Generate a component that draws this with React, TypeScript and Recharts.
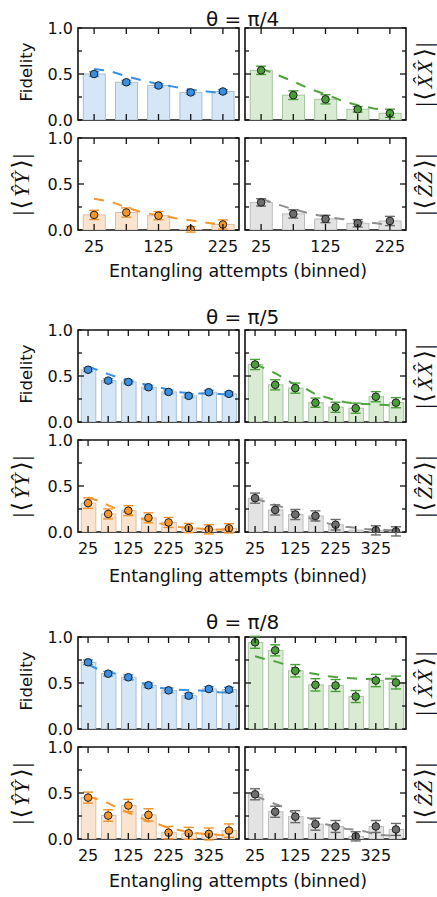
import React from 'react';
import { ComposedChart, Bar, Line, Scatter, XAxis, YAxis, ErrorBar, ReferenceArea } from 'recharts';

// ---------- shared axes ----------
const BINS_5 = [25, 75, 125, 175, 225];
const BINS_8 = [25, 75, 125, 175, 225, 275, 325, 375];
const TH_X_5 = [25, 50, 75, 100, 125, 150, 175, 200, 225];
const TH_X_8 = [25, 50, 75, 100, 125, 150, 175, 200, 225, 250, 275, 300, 325, 350, 375];
const X_LABELS_5 = [25, 125, 225];
const X_LABELS_8 = [25, 125, 225, 325];
const Y_TICKS = [0, 0.25, 0.5, 0.75, 1];
const Y_LABELS = [0, 0.5, 1];
const TITLES = ['θ = π/4', 'θ = π/5', 'θ = π/8'];
const X_TITLE = 'Entangling attempts (binned)';

// ---------- θ = π/4 ----------
const PI4_FID = [0.5, 0.41, 0.375, 0.3, 0.31];
const PI4_FID_ERR = [0.025, 0.02, 0.02, 0.02, 0.02];
const PI4_FID_TH = [0.555, 0.53, 0.475, 0.43, 0.39, 0.36, 0.33, 0.31, 0.29];
const PI4_XX = [0.54, 0.27, 0.225, 0.116, 0.073];
const PI4_XX_ERR = [0.045, 0.047, 0.05, 0.03, 0.045];
const PI4_XX_TH = [0.56, 0.49, 0.42, 0.34, 0.28, 0.21, 0.16, 0.125, 0.1];
const PI4_YY = [0.164, 0.19, 0.156, 0.007, 0.06];
const PI4_YY_ERR = [0.05, 0.05, 0.045, 0.03, 0.05];
const PI4_YY_TH = [0.34, 0.31, 0.245, 0.19, 0.16, 0.13, 0.105, 0.08, 0.055];
const PI4_ZZ = [0.3, 0.175, 0.12, 0.073, 0.098];
const PI4_ZZ_ERR = [0.04, 0.045, 0.04, 0.04, 0.05];
const PI4_ZZ_TH = [0.34, 0.28, 0.225, 0.18, 0.145, 0.12, 0.095, 0.075, 0.055];

// ---------- θ = π/5 ----------
const PI5_FID = [0.568, 0.45, 0.435, 0.378, 0.327, 0.284, 0.324, 0.306];
const PI5_FID_ERR = [0.02, 0.02, 0.02, 0.02, 0.02, 0.02, 0.02, 0.02];
const PI5_FID_TH = [0.6, 0.565, 0.52, 0.485, 0.455, 0.425, 0.4, 0.38, 0.35, 0.325, 0.315, 0.31, 0.31, 0.305, 0.3];
const PI5_XX = [0.625, 0.404, 0.368, 0.21, 0.16, 0.15, 0.275, 0.21];
const PI5_XX_ERR = [0.055, 0.055, 0.055, 0.05, 0.055, 0.055, 0.055, 0.055];
const PI5_XX_TH = [0.63, 0.58, 0.53, 0.47, 0.4, 0.365, 0.3, 0.27, 0.235, 0.215, 0.2, 0.195, 0.19, 0.185, 0.18];
const PI5_YY = [0.314, 0.196, 0.232, 0.154, 0.104, 0.043, 0.029, 0.04];
const PI5_YY_ERR = [0.057, 0.054, 0.054, 0.054, 0.054, 0.05, 0.05, 0.05];
const PI5_YY_TH = [0.375, 0.34, 0.29, 0.245, 0.2, 0.16, 0.115, 0.096, 0.07, 0.055, 0.045, 0.037, 0.03, 0.027, 0.025];
const PI5_ZZ = [0.368, 0.24, 0.19, 0.175, 0.079, 0.02, 0.018, 0.007];
const PI5_ZZ_PT = [0.368, 0.24, 0.19, 0.175, 0.079, null, 0.018, 0.007];
const PI5_ZZ_ERR = [0.055, 0.055, 0.055, 0.055, 0.057, 0.05, 0.05, 0.05];
const PI5_ZZ_TH = [0.36, 0.33, 0.295, 0.26, 0.205, 0.17, 0.125, 0.1, 0.075, 0.058, 0.045, 0.032, 0.025, 0.023, 0.018];

// ---------- θ = π/8 ----------
const PI8_FID = [0.725, 0.601, 0.562, 0.475, 0.42, 0.362, 0.435, 0.428];
const PI8_FID_ERR = [0.025, 0.025, 0.025, 0.025, 0.025, 0.025, 0.025, 0.025];
const PI8_FID_TH = [0.7, 0.65, 0.62, 0.595, 0.55, 0.515, 0.47, 0.447, 0.437, 0.428, 0.42, 0.418, 0.412, 0.4, 0.395];
const PI8_XX = [0.942, 0.855, 0.633, 0.48, 0.473, 0.353, 0.527, 0.505];
const PI8_XX_ERR = [0.065, 0.06, 0.067, 0.067, 0.065, 0.065, 0.067, 0.07];
const PI8_XX_TH = [0.79, 0.76, 0.735, 0.7, 0.648, 0.615, 0.597, 0.578, 0.565, 0.555, 0.548, 0.543, 0.545, 0.545, 0.545];
const PI8_YY = [0.45, 0.255, 0.364, 0.262, 0.069, 0.062, 0.055, 0.091];
const PI8_YY_ERR = [0.06, 0.063, 0.067, 0.067, 0.067, 0.065, 0.065, 0.073];
const PI8_YY_TH = [0.465, 0.43, 0.39, 0.335, 0.285, 0.244, 0.19, 0.16, 0.12, 0.098, 0.075, 0.062, 0.052, 0.044, 0.04];
const PI8_ZZ = [0.486, 0.296, 0.243, 0.161, 0.136, 0.029, 0.136, 0.104];
const PI8_ZZ_ERR = [0.06, 0.06, 0.065, 0.065, 0.065, 0.05, 0.065, 0.065];
const PI8_ZZ_TH = [0.47, 0.425, 0.38, 0.34, 0.265, 0.24, 0.2, 0.16, 0.14, 0.11, 0.1, 0.08, 0.048, 0.04, 0.035];

// ---------- styles ----------
const STYLES: Record<string, any> = {
  blue: { pt: '#3a8fe0', bar: '#d5e6f7', barEdge: '#a9bed4', err: '#4a9be6', th: '#3a8fe0' },
  green: { pt: '#4a9e3a', bar: '#d9ebd3', barEdge: '#a9c4a3', err: '#45a034', th: '#4ea33d' },
  orange: { pt: '#f5962b', bar: '#fbe4cf', barEdge: '#dcbfa6', err: '#f3912a', th: '#f5962f' },
  gray: { pt: '#6e6e6e', bar: '#e3e3e3', barEdge: '#bdbdbd', err: '#6a6a6a', th: '#8e8e8e' },
};

const PW = 161;
const PH = 92;
const ML = 45, MR = 12, MT = 12, MB = 35;
const FONT = '"DejaVu Sans", sans-serif';
const TICK_FONT = 16;

const makeXTick = (labels: number[] | null) => (props: any) => {
  const { x, y, payload } = props;
  const v = payload.value;
  return (
    <g>
      <line x1={x} x2={x} y1={y} y2={y - 6} stroke="#111" strokeWidth={1.3} />
      <line x1={x} x2={x} y1={y - PH} y2={y - PH + 6} stroke="#111" strokeWidth={1.3} />
      {labels && labels.includes(v) ? (
        <text x={x} y={y + 22} textAnchor="middle" fontSize={TICK_FONT} fontFamily={FONT} fill="#111">
          {v}
        </text>
      ) : null}
    </g>
  );
};

const makeYTick = (show: boolean) => (props: any) => {
  const { x, y, payload } = props;
  const v = payload.value;
  const len = v === 0.5 ? 6 : 4;
  return (
    <g>
      <line x1={x} x2={x + len} y1={y} y2={y} stroke="#111" strokeWidth={1.3} />
      <line x1={x + PW} x2={x + PW - len} y1={y} y2={y} stroke="#111" strokeWidth={1.3} />
      {show && Y_LABELS.includes(v) ? (
        <text x={x - 5} y={y} dy="0.36em" textAnchor="end" fontSize={TICK_FONT} fontFamily={FONT} fill="#111">
          {v.toFixed(1)}
        </text>
      ) : null}
    </g>
  );
};

const makeBarShape = (w: number, fill: string, stroke: string) => (sp: any) => {
  const cx = sp.x + sp.width / 2;
  let y = sp.y;
  let h = sp.height;
  if (h < 0) {
    y = y + h;
    h = -h;
  }
  return <rect x={cx - w / 2} y={y} width={w} height={h} fill={fill} stroke={stroke} strokeWidth={1} />;
};

function Panel(p: any) {
  const st = STYLES[p.color];
  const data = p.bins.map((x: number, i: number) => ({ x, v: p.vals[i], err: p.errs[i] }));
  const ptVals = p.pts || p.vals;
  const pts = p.bins
    .map((x: number, i: number) => ({ x, v: ptVals[i], err: p.errs[i] }))
    .filter((d: any) => d.v !== null && d.v !== undefined);
  const th = p.thX.map((x: number, i: number) => ({ x, v: p.th[i] }));
  const xMax = p.xMax;
  const bandPx = (PW / xMax) * 50;
  return (
    <div style={{ position: 'absolute', left: p.left - ML, top: p.top - MT }}>
      <ComposedChart
        width={PW + ML + MR}
        height={PH + MT + MB}
        data={data}
        margin={{ top: MT, right: MR, bottom: 0, left: 0 }}
      >
        <XAxis
          type="number"
          dataKey="x"
          domain={[0, xMax]}
          ticks={p.bins}
          interval={0}
          tickSize={0}
          tickMargin={0}
          axisLine={false}
          tickLine={false}
          height={MB}
          allowDataOverflow
          tick={makeXTick(p.xLabels)}
        />
        <YAxis
          type="number"
          dataKey="v"
          domain={[0, 1]}
          ticks={Y_TICKS}
          interval={0}
          tickSize={0}
          tickMargin={0}
          axisLine={false}
          tickLine={false}
          width={ML}
          allowDataOverflow
          tick={makeYTick(p.yLabels)}
        />
        <Bar
          dataKey="v"
          fill={st.bar}
          stroke={st.barEdge}
          barSize={p.barSize}
          maxBarSize={bandPx}
          shape={makeBarShape(p.barSize, st.bar, st.barEdge)}
          isAnimationActive={false}
        />
        <Line
          data={th}
          dataKey="v"
          type="linear"
          stroke={st.th}
          strokeWidth={2}
          strokeDasharray="10 9"
          dot={false}
          activeDot={false}
          isAnimationActive={false}
        />
        <Scatter
          data={pts}
          dataKey="v"
          isAnimationActive={false}
          shape={(sp: any) => <circle cx={sp.cx} cy={sp.cy} r={3.8} fill={st.pt} stroke="#1e1e1e" strokeWidth={1} />}
        >
          <ErrorBar dataKey="err" direction="y" width={5} stroke={st.err} strokeWidth={1.4} />
        </Scatter>
        <ReferenceArea x1={0} x2={xMax} y1={0} y2={1} fill="none" stroke="#111" strokeWidth={1.6} ifOverflow="visible" />
      </ComposedChart>
    </div>
  );
}

const textStyle: React.CSSProperties = {
  position: 'absolute',
  transform: 'translate(-50%, -50%)',
  whiteSpace: 'nowrap',
  lineHeight: 1,
  fontFamily: FONT,
  color: '#111',
};

function RotLabel({ x, y, children, size, family }: any) {
  return (
    <div
      style={{
        ...textStyle,
        left: x,
        top: y,
        fontSize: size,
        fontFamily: family || FONT,
        transform: 'translate(-50%, -50%) rotate(-90deg)',
      }}
    >
      {children}
    </div>
  );
}

function MathLabel({ letter }: { letter: string }) {
  return (
    <span style={{ letterSpacing: 1 }}>
      <span style={{ fontSize: 24 }}>|⟨</span>
      <span style={{ fontStyle: 'italic', padding: '0 2px' }}>{letter + '\u0302'}{letter + '\u0302'}</span>
      <span style={{ fontSize: 24 }}>⟩|</span>
    </span>
  );
}

const GROUPS = [
  {
    title: TITLES[0], titleY: 19, topY: 28, botY: 138, xlabelY: 272,
    bins: BINS_5, thX: TH_X_5, xMax: 250, barSize: 22, xLabels: X_LABELS_5,
    fid: [PI4_FID, PI4_FID_ERR, PI4_FID_TH], xx: [PI4_XX, PI4_XX_ERR, PI4_XX_TH],
    yy: [PI4_YY, PI4_YY_ERR, PI4_YY_TH], zz: [PI4_ZZ, PI4_ZZ_ERR, PI4_ZZ_TH], zzPts: null,
  },
  {
    title: TITLES[1], titleY: 316.5, topY: 330, botY: 440, xlabelY: 577,
    bins: BINS_8, thX: TH_X_8, xMax: 400, barSize: 14.5, xLabels: X_LABELS_8,
    fid: [PI5_FID, PI5_FID_ERR, PI5_FID_TH], xx: [PI5_XX, PI5_XX_ERR, PI5_XX_TH],
    yy: [PI5_YY, PI5_YY_ERR, PI5_YY_TH], zz: [PI5_ZZ, PI5_ZZ_ERR, PI5_ZZ_TH], zzPts: PI5_ZZ_PT,
  },
  {
    title: TITLES[2], titleY: 621.5, topY: 636.5, botY: 746.5, xlabelY: 882,
    bins: BINS_8, thX: TH_X_8, xMax: 400, barSize: 14.5, xLabels: X_LABELS_8,
    fid: [PI8_FID, PI8_FID_ERR, PI8_FID_TH], xx: [PI8_XX, PI8_XX_ERR, PI8_XX_TH],
    yy: [PI8_YY, PI8_YY_ERR, PI8_YY_TH], zz: [PI8_ZZ, PI8_ZZ_ERR, PI8_ZZ_TH], zzPts: null,
  },
];

const LEFT_X = 78;
const RIGHT_X = 245;

function Group({ g }: any) {
  const common = { bins: g.bins, thX: g.thX, xMax: g.xMax, barSize: g.barSize };
  const serif = '"Liberation Serif", "DejaVu Serif", serif';
  return (
    <>
      <div style={{ ...textStyle, left: 242.5, top: g.titleY, fontSize: 20 }}>{g.title}</div>
      <Panel {...common} left={LEFT_X} top={g.topY} color="blue" vals={g.fid[0]} errs={g.fid[1]} th={g.fid[2]} xLabels={null} yLabels={true} />
      <Panel {...common} left={RIGHT_X} top={g.topY} color="green" vals={g.xx[0]} errs={g.xx[1]} th={g.xx[2]} xLabels={null} yLabels={false} />
      <Panel {...common} left={LEFT_X} top={g.botY} color="orange" vals={g.yy[0]} errs={g.yy[1]} th={g.yy[2]} xLabels={g.xLabels} yLabels={true} />
      <Panel {...common} left={RIGHT_X} top={g.botY} color="gray" vals={g.zz[0]} errs={g.zz[1]} th={g.zz[2]} pts={g.zzPts} xLabels={g.xLabels} yLabels={false} />
      <RotLabel x={27} y={g.topY + PH / 2 - 2} size={16.5}>Fidelity</RotLabel>
      <RotLabel x={21} y={g.botY + PH / 2} size={22} family={serif}><MathLabel letter="Y" /></RotLabel>
      <RotLabel x={424} y={g.topY + PH / 2} size={22} family={serif}><MathLabel letter="X" /></RotLabel>
      <RotLabel x={424} y={g.botY + PH / 2} size={22} family={serif}><MathLabel letter="Z" /></RotLabel>
      <div style={{ ...textStyle, left: 238, top: g.xlabelY, fontSize: 17.5 }}>{X_TITLE}</div>
    </>
  );
}

export default function App() {
  return (
    <div style={{ position: 'absolute', left: 0, top: 0, width: 437, height: 897, background: '#fff', overflow: 'hidden' }}>
      {GROUPS.map((g, i) => (
        <Group key={i} g={g} />
      ))}
    </div>
  );
}
